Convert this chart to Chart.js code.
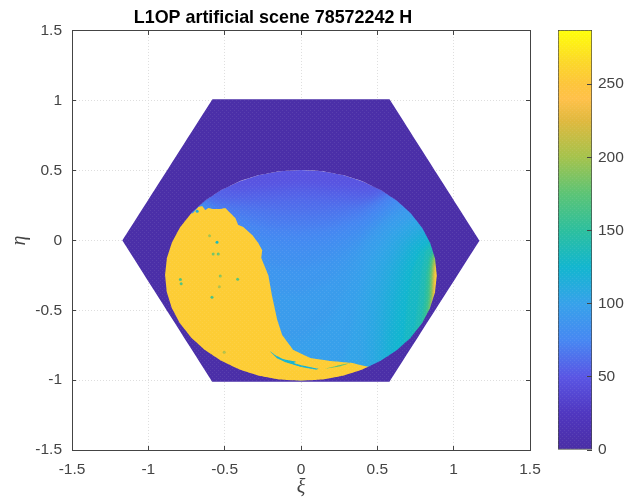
<!DOCTYPE html>
<html>
<head>
<meta charset="utf-8">
<title>L1OP artificial scene</title>
<script src="https://cdn.jsdelivr.net/npm/chart.js@4/dist/chart.umd.min.js"></script>
<style>
html, body { margin: 0; padding: 0; background: #fff; overflow: hidden; }
canvas { position: absolute; top: 0; filter: blur(0.35px); }
#sceneChart { left: 0; }
#barChart { left: 546px; }
</style>
</head>
<body>
<canvas id="sceneChart" width="546" height="500"></canvas>
<canvas id="barChart" width="79" height="500"></canvas>
<script>
// Axis ticks
const xiTicks = [-1.5, -1, -0.5, 0, 0.5, 1, 1.5];
const etaTicks = [-1.5, -1, -0.5, 0, 0.5, 1, 1.5];
const barTicks = [0, 50, 100, 150, 200, 250];
const barMax = 287;

// Colour scale as seen on the colour bar
const mapValues = [0, 25, 50, 75, 100, 125, 150, 175, 200, 225, 240, 250, 265, 287];
const mapColors = ['#4a2ea5', '#5037c0', '#5a56e4', '#4788f2', '#37a2ea', '#13b6cf', '#2dbf9e',
    '#5cc476', '#a5c34d', '#e0b93f', '#ffc14a', '#fdc53c', '#fcd82a', '#ffff0a'];

// Outside the disc: hexagon, then the disc rim the other way round to leave a hole
const spaceValue = 3;
const hexagon = [[1.17, 0], [0.58, -1.012], [-0.58, -1.012], [-1.17, 0], [-0.58, 1.012], [0.58, 1.012], [1.17, 0]];
const rim = [[0.89, -0.25], [0.879, -0.132], [0.846, -0.017], [0.793, 0.093], [0.72, 0.194], [0.629, 0.284],
    [0.523, 0.361], [0.404, 0.423], [0.275, 0.468], [0.139, 0.496], [0, 0.505],
    [-0.139, 0.496], [-0.275, 0.468], [-0.404, 0.423], [-0.523, 0.361], [-0.629, 0.284], [-0.72, 0.194],
    [-0.793, 0.093], [-0.846, -0.017], [-0.879, -0.132], [-0.89, -0.25],
    [-0.879, -0.368], [-0.846, -0.483], [-0.793, -0.593], [-0.72, -0.694], [-0.629, -0.784],
    [-0.523, -0.861], [-0.404, -0.923], [-0.275, -0.968], [-0.139, -0.996], [0, -1.005],
    [0.139, -0.996], [0.275, -0.968], [0.404, -0.923], [0.523, -0.861], [0.629, -0.784], [0.72, -0.694],
    [0.793, -0.593], [0.846, -0.483], [0.879, -0.368], [0.89, -0.25], [1.17, 0]];

// Brightness contours of the lit side, each level covers everything past its line
const wideLevels = [56, 62, 68, 74, 79, 84, 89, 94, 98];
const wideLines = [
    [[-0.6, 0.45], [-0.45, 0.36], [-0.25, 0.37], [0, 0.39], [0.25, 0.37], [0.45, 0.36], [0.6, 0.45]],
    [[-0.7, 0.4], [-0.55, 0.28], [-0.3, 0.29], [0, 0.3], [0.3, 0.29], [0.5, 0.27], [0.62, 0.34]],
    [[-0.75, 0.4], [-0.62, 0.28], [-0.4, 0.24], [-0.2, 0.21], [0, 0.2], [0.2, 0.21], [0.4, 0.25], [0.55, 0.32], [0.62, 0.4]],
    [[-0.8, 0.35], [-0.63, 0.26], [-0.45, 0.18], [-0.2, 0.11], [0, 0.1], [0.2, 0.12], [0.4, 0.19], [0.56, 0.3], [0.65, 0.38]],
    [[-0.85, 0.3], [-0.64, 0.25], [-0.45, 0.12], [-0.2, 0.03], [0, 0.02], [0.2, 0.05], [0.4, 0.13], [0.6, 0.28], [0.7, 0.36]],
    [[-0.9, 0.3], [-0.65, 0.24], [-0.45, 0.05], [-0.2, -0.06], [0, -0.08], [0.2, -0.03], [0.4, 0.07], [0.63, 0.26], [0.75, 0.33]],
    [[-0.9, 0.25], [-0.64, 0.22], [-0.5, 0.03], [-0.2, -0.18], [0, -0.2], [0.2, -0.13], [0.38, 0], [0.55, 0.16], [0.66, 0.25], [0.78, 0.3]],
    [[-0.9, 0.2], [-0.66, 0.2], [-0.5, -0.1], [-0.2, -0.36], [0, -0.38], [0.2, -0.28], [0.35, -0.1], [0.5, 0.08], [0.68, 0.22], [0.8, 0.28]],
    [[-0.9, 0.1], [-0.6, 0], [-0.3, -0.7], [0, -0.72], [0.2, -0.55], [0.33, -0.28], [0.45, -0.03], [0.6, 0.13], [0.72, 0.18], [0.85, 0.2]]
];
const wideOuter = [[1.3, 0.1], [1.2, -0.5], [0.8, -1.3], [-0.8, -1.3], [-1.2, -0.5], [-1.3, 0.1]];

const sideLevels = [102, 106, 110, 115, 120, 125];
const sideLines = [
    [[0.25, -1.005], [0.32, -0.7], [0.38, -0.4], [0.45, -0.15], [0.58, 0.05], [0.72, 0.15], [0.86, 0.18]],
    [[0.42, -1.005], [0.42, -0.7], [0.44, -0.4], [0.5, -0.18], [0.6, 0], [0.73, 0.13], [0.9, 0.16]],
    [[0.48, -1.005], [0.48, -0.7], [0.5, -0.42], [0.55, -0.2], [0.64, -0.02], [0.76, 0.09], [0.92, 0.12]],
    [[0.52, -1.005], [0.53, -0.7], [0.55, -0.42], [0.6, -0.2], [0.68, -0.03], [0.78, 0.06], [0.95, 0.1]],
    [[0.56, -0.95], [0.57, -0.7], [0.6, -0.45], [0.65, -0.2], [0.72, -0.04], [0.81, 0.03], [0.95, 0.05]],
    [[0.6, -0.9], [0.62, -0.7], [0.65, -0.45], [0.69, -0.22], [0.75, -0.07], [0.83, 0], [0.96, 0]]
];
const sideOuter = [[1.3, 0.1], [1.2, -0.5], [0.7, -1.3]];

// Bright crescent on the right limb
const limbLevels = [130, 138, 150, 168, 190, 215, 240, 258];
const limbLines = [
    [[0.66, -0.85], [0.68, -0.65], [0.7, -0.42], [0.73, -0.22], [0.78, -0.08], [0.85, 0], [0.96, 0.02]],
    [[0.7, -0.78], [0.75, -0.6], [0.77, -0.42], [0.79, -0.22], [0.815, -0.08], [0.86, -0.02], [0.96, -0.02]],
    [[0.74, -0.72], [0.79, -0.58], [0.81, -0.42], [0.82, -0.25], [0.84, -0.12], [0.87, -0.05], [0.96, -0.05]],
    [[0.77, -0.66], [0.82, -0.55], [0.835, -0.4], [0.84, -0.25], [0.85, -0.14], [0.87, -0.08], [0.96, -0.08]],
    [[0.81, -0.62], [0.84, -0.52], [0.85, -0.4], [0.853, -0.25], [0.862, -0.16], [0.875, -0.1], [0.96, -0.1]],
    [[0.83, -0.58], [0.85, -0.5], [0.862, -0.4], [0.865, -0.25], [0.87, -0.18], [0.88, -0.12], [0.96, -0.12]],
    [[0.84, -0.55], [0.86, -0.47], [0.872, -0.38], [0.875, -0.25], [0.88, -0.18], [0.96, -0.15]],
    [[0.85, -0.53], [0.87, -0.45], [0.88, -0.35], [0.882, -0.22], [0.96, -0.18]]
];
const limbOuter = [[1.2, -0.4]];

// Bright land area on the left
const landValue = 256;
const land = [[-0.8, 0.17], [-0.706, 0.197], [-0.673, 0.24], [-0.647, 0.247], [-0.627, 0.218], [-0.607, 0.233],
    [-0.575, 0.225], [-0.529, 0.225], [-0.496, 0.233], [-0.463, 0.197], [-0.43, 0.161], [-0.411, 0.111],
    [-0.378, 0.097], [-0.319, 0.039], [-0.28, -0.018], [-0.254, -0.068], [-0.26, -0.125], [-0.214, -0.247],
    [-0.188, -0.404], [-0.155, -0.569], [-0.123, -0.676], [-0.05, -0.784], [0.061, -0.841], [0.192, -0.863],
    [0.336, -0.877], [0.5, -0.92], [0.35, -1.005], [0, -1.005], [-0.58, -1.005], [-0.93, -0.4], [-0.95, 0], [-0.8, 0.17]];

// Thin darker streaks inside the land
const streakValues = [122, 170];
const streaks = [
    [[-0.206, -0.789], [-0.162, -0.825], [-0.114, -0.85], [-0.03, -0.868], [-0.05, -0.878], [0, -0.893],
        [0.115, -0.918], [0.1, -0.925], [-0.005, -0.904], [-0.1, -0.872], [-0.157, -0.843], [-0.206, -0.789]],
    [[0.159, -0.918], [0.236, -0.896], [0.323, -0.877], [0.246, -0.904], [0.159, -0.918]]
];

// Small specks in the land
const speckXi = [-0.55, -0.79, -0.785, -0.529, -0.415, -0.583, -0.535, -0.599, -0.575, -0.542, -0.68, -0.503];
const speckEta = [-0.013, -0.28, -0.31, -0.254, -0.278, -0.407, -0.331, 0.034, -0.097, -0.097, 0.21, -0.8];
const speckValues = [135, 170, 170, 190, 175, 165, 205, 200, 185, 180, 115, 205];

function valueColor(v) {
    let i = 0;
    while (i < mapValues.length - 2 && v > mapValues[i + 1]) i++;
    const t = (v - mapValues[i]) / (mapValues[i + 1] - mapValues[i]);
    const a = parseInt(mapColors[i].slice(1), 16);
    const b = parseInt(mapColors[i + 1].slice(1), 16);
    const mix = shift => Math.round(((a >> shift) & 255) * (1 - t) + ((b >> shift) & 255) * t);
    return 'rgb(' + mix(16) + ',' + mix(8) + ',' + mix(0) + ')';
}

// Faint dot lattice the scatter markers leave in the original
function dotPattern(alpha) {
    const tile = document.createElement('canvas');
    tile.width = 4;
    tile.height = 4;
    const c = tile.getContext('2d');
    c.fillStyle = 'rgba(255,255,255,' + alpha + ')';
    c.fillRect(0, 0, 1, 1);
    c.fillRect(2, 2, 1, 1);
    return document.createElement('canvas').getContext('2d').createPattern(tile, 'repeat');
}

function region(path, fillColor, blur) {
    return {
        data: path.map(p => ({ x: p[0], y: p[1] })),
        showLine: true,
        fill: 'shape',
        backgroundColor: fillColor,
        borderWidth: 0,
        pointRadius: 0,
        tension: 0.0001,
        blur: blur
    };
}

// Listed from the bottom layer up
const layers = [region(hexagon, valueColor(48), 5)];
wideLevels.forEach((v, i) => layers.push(region(wideLines[i].concat(wideOuter), valueColor(v), 5)));
sideLevels.forEach((v, i) => layers.push(region(sideLines[i].concat(sideOuter), valueColor(v), 3)));
limbLevels.forEach((v, i) => layers.push(region(limbLines[i].concat(limbOuter), valueColor(v), 0.8)));
layers.push(region(land, valueColor(landValue)));
streaks.forEach((s, i) => layers.push(region(s, valueColor(streakValues[i]))));
layers.push({
    data: speckXi.map((x, i) => ({ x: x, y: speckEta[i] })),
    pointRadius: 1.5,
    pointBorderWidth: 0,
    pointBackgroundColor: speckValues.map(valueColor)
});
layers.push(region(hexagon.concat(rim), valueColor(spaceValue)));
layers.push(region(hexagon, dotPattern(0.08)));

// Contour bands are softened while they draw and kept inside the disc
let softening = false;
const softField = {
    id: 'softField',
    beforeDatasetsDraw(chart) {
        const ctx = chart.ctx;
        ctx.save();
        ctx.beginPath();
        rim.slice(0, -1).forEach(p => ctx.lineTo(chart.scales.x.getPixelForValue(p[0]), chart.scales.y.getPixelForValue(p[1])));
        ctx.clip();
        ctx.filter = 'blur(' + layers[0].blur + 'px)';
        softening = true;
    },
    afterDatasetDraw(chart, args) {
        if (!softening) return;
        const next = chart.data.datasets[args.index - 1];
        if (next && next.blur) {
            chart.ctx.filter = 'blur(' + next.blur + 'px)';
        } else {
            chart.ctx.restore();
            softening = false;
        }
    }
};

const axisColor = '#444444';
const labelFont = { family: '"Liberation Sans", sans-serif', size: 15.5 };
const symbolFont = { family: '"Liberation Serif", serif', size: 20, style: 'italic' };

function setTicks(values) {
    return scale => { scale.ticks = values.map(v => ({ value: v })); };
}

function sceneAxis(position, values, size, extra) {
    const horizontal = position === 'bottom' || position === 'top';
    return Object.assign({
        type: 'linear',
        position: position,
        min: -1.5,
        max: 1.5,
        afterBuildTicks: setTicks(values),
        afterFit: scale => {
            scale[horizontal ? 'height' : 'width'] = size;
            // no extra margin for the end labels, the plot box is fixed
            scale.paddingLeft = scale.paddingRight = scale.paddingTop = scale.paddingBottom = 0;
        },
        ticks: { display: false }
    }, extra);
}

const gridLines = {
    color: '#dedede',
    tickColor: axisColor,
    tickBorderDash: [],
    tickLength: -4
};
const edgeTicks = {
    drawOnChartArea: false,
    tickColor: axisColor,
    tickLength: -4
};
const dottedBorder = { color: axisColor, width: 1, dash: [1, 2] };
const solidBorder = { color: axisColor, width: 1 };

new Chart(document.getElementById('sceneChart'), {
    type: 'scatter',
    data: { datasets: layers.slice().reverse() },
    plugins: [softField],
    options: {
        responsive: false,
        animation: false,
        layout: { padding: 0 },
        plugins: {
            legend: { display: false },
            tooltip: { enabled: false },
            title: {
                display: true,
                text: 'L1OP artificial scene 78572242 H',
                color: '#000000',
                font: { family: '"Liberation Sans", sans-serif', size: 17.9, weight: 'bold' },
                padding: { top: 7, bottom: 2.5 }
            }
        },
        scales: {
            x: sceneAxis('bottom', xiTicks, 50, {
                grid: gridLines,
                border: dottedBorder,
                ticks: { color: axisColor, font: labelFont, padding: 14, maxRotation: 0, autoSkip: false, callback: v => String(v) },
                title: { display: true, text: 'ξ', color: axisColor, font: symbolFont, padding: { top: -3, bottom: 0 } }
            }),
            y: sceneAxis('left', etaTicks, 72, {
                grid: gridLines,
                border: dottedBorder,
                ticks: { color: axisColor, font: labelFont, padding: 14, autoSkip: false, callback: v => String(v) },
                title: { display: true, text: 'η', color: axisColor, font: symbolFont, padding: { top: 8, bottom: 0 } }
            }),
            xTop: sceneAxis('top', xiTicks, 0, { grid: edgeTicks, border: solidBorder }),
            yRight: sceneAxis('right', etaTicks, 16, { grid: edgeTicks, border: solidBorder })
        }
    }
});

// Gradient is built from the colour scale through the bar's own axis
function barGradient(ctx) {
    const chart = ctx.chart;
    if (!chart.chartArea) return mapColors[0];
    const y = chart.scales.y;
    const g = chart.ctx.createLinearGradient(0, y.getPixelForValue(0), 0, y.getPixelForValue(barMax));
    mapValues.forEach((v, i) => g.addColorStop(Math.min(v / barMax, 1), mapColors[i]));
    return g;
}

new Chart(document.getElementById('barChart'), {
    type: 'bar',
    data: {
        labels: [''],
        datasets: [
            { data: [[0, barMax]], backgroundColor: dotPattern(0.08), grouped: false, barPercentage: 1, categoryPercentage: 1 },
            { data: [[0, barMax]], backgroundColor: barGradient, borderColor: axisColor, borderWidth: 1, borderSkipped: false, grouped: false, barPercentage: 1, categoryPercentage: 1 }
        ]
    },
    options: {
        responsive: false,
        animation: false,
        layout: { padding: { left: 12, top: 30, bottom: 50, right: 0 } },
        plugins: { legend: { display: false }, tooltip: { enabled: false } },
        scales: {
            x: { display: false },
            y: {
                position: 'right',
                min: 0,
                max: barMax,
                afterBuildTicks: setTicks(barTicks),
                afterFit: scale => { scale.width = 33; },
                border: { display: false },
                grid: { z: 1, drawOnChartArea: false, tickColor: axisColor, tickLength: -5 },
                ticks: { color: axisColor, font: labelFont, padding: 11, autoSkip: false, callback: v => String(v) }
            }
        }
    }
});
</script>
</body>
</html>
